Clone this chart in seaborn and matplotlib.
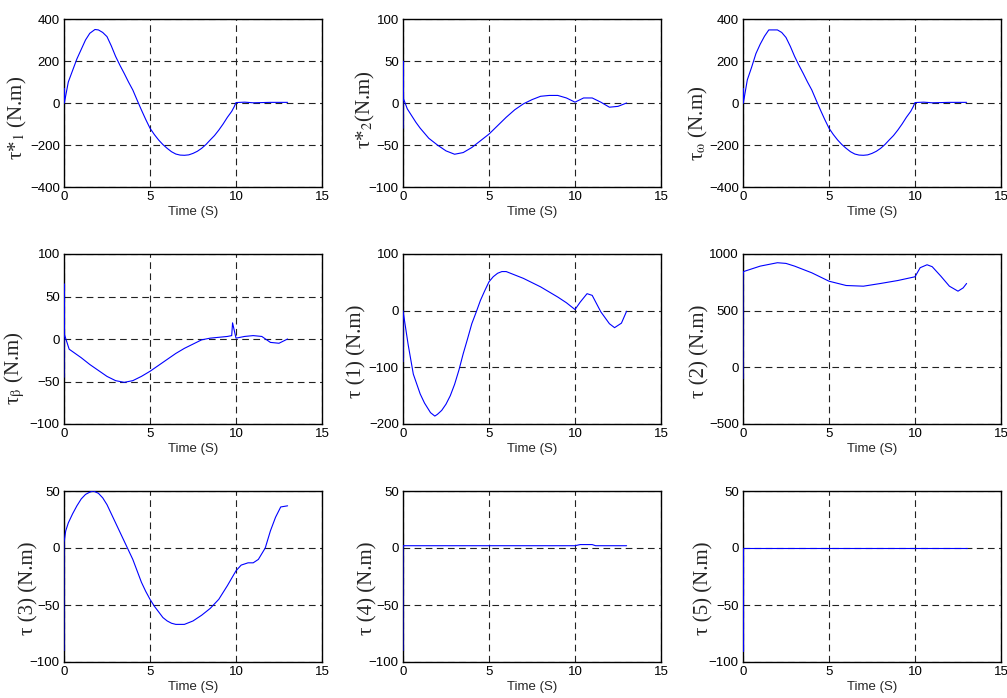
import matplotlib
matplotlib.use("Agg")
import matplotlib.pyplot as plt
import seaborn as sns

# ---- data (time in s, torque in N.m) ----
t_tau1 = [0, 0, 0.02, 0.25, 0.5, 0.75, 1, 1.25, 1.5, 1.8, 2, 2.25, 2.5, 2.75, 3, 3.25, 3.5, 3.75, 4, 4.25, 4.5,
          4.75, 5, 5.25, 5.5, 5.75, 6, 6.25, 6.5, 6.75, 7, 7.25, 7.5, 7.75, 8, 8.25, 8.5, 8.75, 9, 9.25, 9.5,
          9.75, 9.9, 10, 10.5, 11, 12, 13]
tau1 = [0, 70, 0, 100, 155, 210, 255, 300, 332, 350, 348, 336, 316, 272, 222, 180, 141, 100, 62, 14, -33,
        -78, -120, -150, -176, -198, -216, -232, -243, -248, -249, -247, -240, -230, -216, -198, -176, -155, -129, -100, -68,
        -40, -17, 2, 4, 1, 3, 3]

t_tau2 = [0, 0, 0.03, 0.25, 0.5, 0.75, 1, 1.5, 2, 2.5, 3, 3.5, 4, 4.5, 5, 5.5, 6, 6.5, 7, 7.5, 8, 8.5, 9, 9.5,
          10, 10.5, 11, 11.5, 12, 12.5, 13]
tau2 = [-30, 50, 5, -7, -15, -23, -30, -42, -50, -57, -61, -59, -53, -45, -37, -27, -17, -8, -1, 4, 8, 9, 9, 6,
        1, 6, 6, 1, -5, -4, 0]

t_omega = [0, 0, 0.02, 0.25, 0.5, 0.75, 1, 1.25, 1.5, 2, 2.25, 2.5, 2.75, 3, 3.25, 3.5, 3.75, 4, 4.25, 4.5,
           4.75, 5, 5.25, 5.5, 5.75, 6, 6.25, 6.5, 6.75, 7, 7.25, 7.5, 7.75, 8, 8.25, 8.5, 8.75, 9, 9.25, 9.5,
           9.75, 9.9, 10, 10.5, 11, 12, 13]
tau_omega = [0, 70, 0, 110, 170, 235, 280, 318, 348, 348, 336, 312, 270, 222, 180, 141, 100, 62, 14, -33,
             -78, -120, -150, -176, -198, -216, -232, -243, -248, -249, -247, -240, -230, -216, -198, -176, -155, -129, -100, -68,
             -40, -17, 2, 4, 1, 3, 3]

t_beta = [0, 0, 0.03, 0.3, 1, 1.5, 2, 2.5, 3, 3.5, 4, 4.5, 5, 5.5, 6, 6.5, 7, 7.5, 8, 8.5, 9, 9.5, 9.75, 9.8,
          10, 10.5, 11, 11.5, 12, 12.5, 13]
tau_beta = [-45, 65, 5, -12, -22, -30, -37, -44, -49, -51, -49, -44, -38, -31, -24, -17, -11, -6, -1, 1, 2, 3, 4, 19,
            1, 3, 4, 3, -4, -5, 0]

t_j1 = [0, 0, 0.3, 0.6, 1, 1.25, 1.6, 1.85, 2, 2.25, 2.5, 2.75, 3, 3.25, 3.5, 3.75, 4, 4.25, 4.5, 4.75, 5, 5.25,
        5.5, 5.75, 6, 7, 8, 9, 9.5, 10, 10.3, 10.7, 11, 11.5, 12, 12.3, 12.7, 13]
tau_j1 = [-90, 0, -60, -112, -147, -163, -180, -186, -183, -176, -165, -150, -130, -105, -76, -50, -23, -3, 18, 35,
          51, 60, 66, 69, 69, 57, 42, 24, 14, 2, 15, 30, 27, -2, -23, -30, -22, -1]

t_j2 = [0, 0, 0.03, 1, 2, 2.5, 3, 4, 5, 6, 7, 8, 9, 10, 10.3, 10.7, 11, 11.5, 12, 12.5, 12.8, 13]
tau_j2 = [-100, 800, 845, 893, 923, 917, 893, 834, 760, 722, 716, 740, 766, 799, 879, 905, 888, 805, 716, 672, 701, 740]

t_j3 = [0, 0, 0.1, 0.25, 0.5, 0.75, 1, 1.25, 1.5, 1.7, 2, 2.25, 2.5, 2.75, 3, 3.25, 3.5, 3.75, 4, 4.25, 4.5, 4.75,
        5, 5.25, 5.5, 5.75, 6, 6.25, 6.5, 7, 7.5, 8, 8.5, 9, 9.5, 10, 10.3, 10.7, 11, 11.3, 11.7, 12, 12.3, 12.6, 13]
tau_j3 = [-90, 5, 15, 22, 30, 37, 43, 47, 49, 50, 48, 44, 38, 30, 22, 14, 6, -2, -10, -20, -30, -38,
          -45, -51, -56, -61, -64, -66, -67, -67, -64, -59, -53, -45, -33, -20, -15, -13, -13, -10, 0, 15, 27, 36, 37]

t_j4 = [0, 0, 0.02, 5, 10, 10.3, 11, 11.2, 13]
tau_j4 = [-90, 2, 2, 2, 2, 3, 3, 2, 2]

t_j5 = [0, 0, 0.02, 5, 10, 13]
tau_j5 = [-90, 0, 0, 0, 0, 0]

series = [
    (t_tau1, tau1, 'τ*$_1$ (N.m)', (-400, 400), [-400, -200, 0, 200, 400]),
    (t_tau2, tau2, 'τ*$_2$(N.m)', (-100, 100), [-100, -50, 0, 50, 100]),
    (t_omega, tau_omega, r'τ$_\mathrm{\omega}$ (N.m)', (-400, 400), [-400, -200, 0, 200, 400]),
    (t_beta, tau_beta, r'τ$_\mathrm{\beta}$ (N.m)', (-100, 100), [-100, -50, 0, 50, 100]),
    (t_j1, tau_j1, 'τ (1) (N.m)', (-200, 100), [-200, -100, 0, 100]),
    (t_j2, tau_j2, 'τ (2) (N.m)', (-500, 1000), [-500, 0, 500, 1000]),
    (t_j3, tau_j3, 'τ (3) (N.m)', (-100, 50), [-100, -50, 0, 50]),
    (t_j4, tau_j4, 'τ (4) (N.m)', (-100, 50), [-100, -50, 0, 50]),
    (t_j5, tau_j5, 'τ (5) (N.m)', (-100, 50), [-100, -50, 0, 50]),
]

# label placement (axes fraction)
label_pos = [(-0.135, 0.41), (-0.102, 0.46), (-0.128, 0.38),
             (-0.143, 0.33), (-0.14, 0.43), (-0.128, 0.43),
             (-0.10, 0.43), (-0.097, 0.43), (-0.116, 0.43)]

sns.set_style("white")
plt.rcParams['font.family'] = ['Liberation Sans', 'DejaVu Sans']
plt.rcParams['mathtext.fontset'] = 'stix'

W, H = 1007, 698
fig = plt.figure(figsize=(W / 100, H / 100), dpi=100)

col_left = [64, 403, 743]
col_right = [322, 661, 1001]
row_top = [19, 254, 491]
row_bottom = [187, 424, 662]

for i, (t, y, label, ylim, yticks) in enumerate(series):
    r, c = divmod(i, 3)
    x0, x1 = col_left[c], col_right[c]
    y0, y1 = row_top[r], row_bottom[r]
    ax = fig.add_axes([x0 / W, 1 - y1 / H, (x1 - x0) / W, (y1 - y0) / H])
    sns.lineplot(x=t, y=y, ax=ax, color='#0000ff', linewidth=0.8,
                 sort=False, estimator=None, zorder=3)
    ax.set_xlim(0, 15)
    ax.set_ylim(*ylim)
    ax.set_xticks([0, 5, 10, 15])
    ax.set_yticks(yticks)
    ax.set_axisbelow(True)
    ax.grid(True, linestyle=(0, (6, 4)), color='#222222', linewidth=0.8)
    for s in ax.spines.values():
        s.set_color('black')
        s.set_linewidth(1.0)
    ax.tick_params(direction='in', length=3, width=0.6, labelsize=9.5,
                   pad=3, colors='black')
    ax.set_xlabel('Time (S)', fontsize=9.5, labelpad=2)
    ax.set_ylabel(label, fontsize=15, family='Liberation Serif')
    ax.yaxis.set_label_coords(*label_pos[i])

fig.savefig('out.png', dpi=100)
